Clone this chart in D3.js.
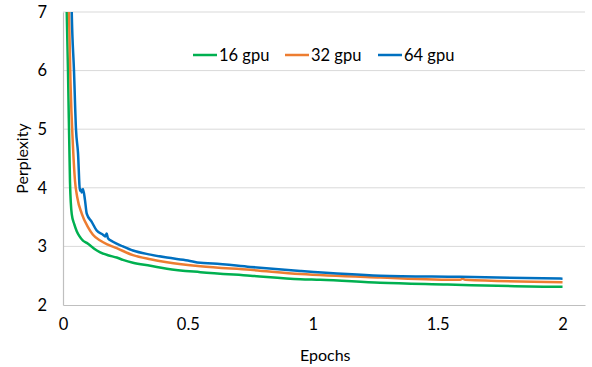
<!DOCTYPE html>
<html>
<head>
<meta charset="utf-8">
<script src="https://cdn.jsdelivr.net/npm/d3@7"></script>
<style>
  body { margin: 0; background: #fff; }
  text { font-family: Lato, "Open Sans", sans-serif; fill: #000; }
</style>
</head>
<body>
<div id="chart"></div>
<script>
// Chart data
const seriesNames = ["16 gpu", "32 gpu", "64 gpu"];
const seriesColors = ["#00b050", "#ed7d31", "#0070c0"];

const epochs16 = [0.008, 0.015, 0.02, 0.028, 0.035, 0.045, 0.055, 0.065, 0.08, 0.095, 0.108, 0.125, 0.149, 0.18, 0.215, 0.24, 0.28, 0.35, 0.416, 0.55, 0.75, 0.95, 1.03, 1.27, 1.54, 1.81, 2.0];
const ppl16 = [9, 7.0, 6.0, 4.1, 3.55, 3.38, 3.26, 3.18, 3.1, 3.06, 3.02, 2.96, 2.9, 2.85, 2.81, 2.77, 2.72, 2.67, 2.62, 2.56, 2.50, 2.44, 2.43, 2.38, 2.35, 2.32, 2.31];

const epochs32 = [0.018, 0.024, 0.03, 0.04, 0.048, 0.057, 0.075, 0.1, 0.12, 0.149, 0.18, 0.215, 0.28, 0.35, 0.416, 0.55, 0.75, 0.95, 1.27, 1.59, 1.6, 1.61, 2.0];
const ppl32 = [9, 7, 5.8, 4.7, 4.12, 3.84, 3.56, 3.33, 3.2, 3.1, 3.03, 2.97, 2.85, 2.78, 2.73, 2.66, 2.60, 2.53, 2.47, 2.43, 2.45, 2.43, 2.39];

const epochs64 = [0.028, 0.035, 0.044, 0.052, 0.06, 0.068, 0.072, 0.075, 0.08, 0.088, 0.095, 0.115, 0.135, 0.16, 0.169, 0.175, 0.18, 0.2, 0.24, 0.28, 0.35, 0.416, 0.5, 0.55, 0.6, 0.75, 0.95, 1.27, 1.59, 2.0];
const ppl64 = [9, 7, 6, 5, 4.6, 3.95, 3.97, 3.92, 3.98, 3.79, 3.56, 3.42, 3.27, 3.2, 3.17, 3.22, 3.14, 3.08, 3.0, 2.93, 2.86, 2.81, 2.76, 2.72, 2.71, 2.65, 2.58, 2.50, 2.48, 2.45];

const xTicks = [0, 0.5, 1, 1.5, 2];
const yTicks = [2, 3, 4, 5, 6, 7];

const width = 592;
const height = 367;
const margin = { top: 12, right: 7, bottom: 62, left: 63 };

const svg = d3.select("#chart")
    .append("svg")
    .attr("width", width)
    .attr("height", height);

const x = d3.scaleLinear().domain([0, 2.09]).range([margin.left, width - margin.right]);
const y = d3.scaleLinear().domain([2, 7]).range([height - margin.bottom, margin.top]);

// Gridlines
svg.append("g")
    .selectAll("line")
    .data(yTicks.slice(1))
    .enter()
    .append("line")
    .attr("x1", margin.left)
    .attr("x2", width - margin.right)
    .attr("y1", d => y(d))
    .attr("y2", d => y(d))
    .attr("stroke", "#d9d9d9")
    .attr("stroke-width", 1);

// Axes
const xAxis = d3.axisBottom(x).tickValues(xTicks).tickSize(0).tickPadding(13).tickFormat(d3.format("~g"));
const yAxis = d3.axisLeft(y).tickValues(yTicks).tickSize(0).tickPadding(16).tickFormat(d3.format("d"));

const gx = svg.append("g")
    .attr("transform", `translate(0, ${y(2)})`)
    .call(xAxis);
gx.select(".domain").attr("stroke", "#bfbfbf").attr("stroke-width", 1.2);
gx.selectAll("text").style("font-size", "16.5px");

const gy = svg.append("g")
    .attr("transform", `translate(${margin.left}, 0)`)
    .call(yAxis);
gy.select(".domain").attr("stroke", "#bfbfbf").attr("stroke-width", 1.2);
gy.selectAll("text").style("font-size", "16.5px");

// Axis titles
svg.append("text")
    .attr("x", x(1.05))
    .attr("y", 361)
    .attr("text-anchor", "middle")
    .style("font-size", "16px")
    .text("Epochs");

svg.append("text")
    .attr("transform", `translate(28, ${y(4.5)}) rotate(-90)`)
    .attr("text-anchor", "middle")
    .style("font-size", "16px")
    .text("Perplexity");

// Lines, clipped to the plot area
svg.append("clipPath")
    .attr("id", "plot-clip")
    .append("rect")
    .attr("x", margin.left)
    .attr("y", margin.top)
    .attr("width", width - margin.left - margin.right)
    .attr("height", y(2) - margin.top);

const series = [
    { name: seriesNames[0], color: seriesColors[0], values: epochs16.map((e, i) => ({ e, p: ppl16[i] })) },
    { name: seriesNames[1], color: seriesColors[1], values: epochs32.map((e, i) => ({ e, p: ppl32[i] })) },
    { name: seriesNames[2], color: seriesColors[2], values: epochs64.map((e, i) => ({ e, p: ppl64[i] })) }
];

const line = d3.line()
    .curve(d3.curveMonotoneX)
    .x(d => x(d.e))
    .y(d => y(d.p));

svg.append("g")
    .attr("clip-path", "url(#plot-clip)")
    .selectAll("path")
    .data(series)
    .enter()
    .append("path")
    .attr("fill", "none")
    .attr("stroke", d => d.color)
    .attr("stroke-width", 2.5)
    .attr("stroke-linejoin", "round")
    .attr("d", d => line(d.values));

// Legend
const legendX = [193, 285, 378];
const legend = svg.append("g")
    .selectAll("g")
    .data(series)
    .enter()
    .append("g")
    .attr("transform", (d, i) => `translate(${legendX[i]}, 55)`);

legend.append("line")
    .attr("x1", 0)
    .attr("x2", 24)
    .attr("stroke", d => d.color)
    .attr("stroke-width", 2.5);

legend.append("text")
    .attr("x", 26)
    .attr("dy", "0.35em")
    .style("font-size", "16.5px")
    .text(d => d.name);
</script>
</body>
</html>
